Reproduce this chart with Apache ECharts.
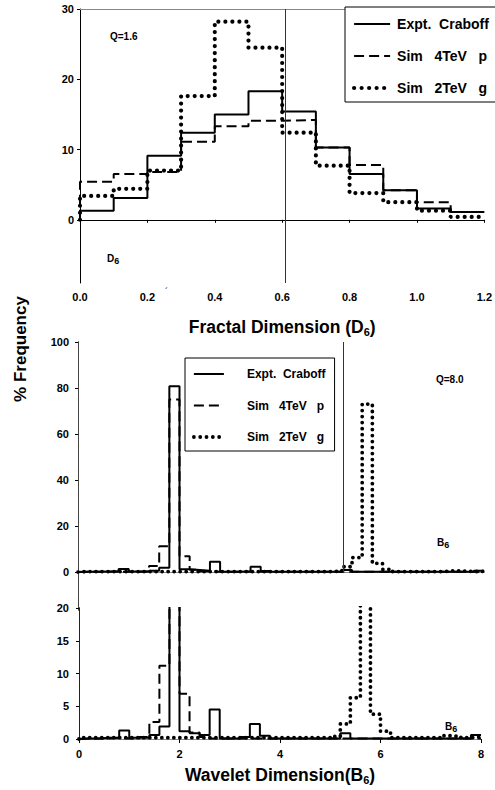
<!DOCTYPE html>
<html>
<head>
<meta charset="utf-8">
<script src="https://cdn.jsdelivr.net/npm/echarts@6/dist/echarts.min.js"></script>
<style>
html,body{margin:0;padding:0;background:#fff;}
#chart{width:495px;height:790px;}
</style>
</head>
<body>
<div id="chart"></div>
<script>
// ---------- DATA ----------
const seriesNames = ['Expt.  Craboff', 'Sim   4TeV   p', 'Sim   2TeV   g'];

// Top panel: fractal dimension D6 histogram (bin edges and % frequency per bin)
const fractalEdges = [0.0, 0.1, 0.2, 0.3, 0.4, 0.5, 0.6, 0.7, 0.8, 0.9, 1.0, 1.1, 1.2];
const fractalExpt  = [1.3, 3.1, 9.1, 12.4, 15.0, 18.3, 15.4, 10.3, 6.5, 4.2, 1.6, 1.1];
const fractalSim4p = [5.4, 6.5, 6.8, 11.1, 13.3, 14.1, 14.2, 10.3, 7.8, 4.2, 2.5, 1.1];
const fractalSim2g = [3.4, 4.4, 7.0, 17.6, 28.2, 24.5, 12.4, 7.7, 3.8, 2.5, 1.3, 0.4];
const fractalTicksX = [0.0, 1.2, 0.2];           // min, max, step
const fractalTicksY = [0, 10, 20, 30];
const fractalRefLine = 0.612;

// Middle / bottom panels: wavelet dimension B6 histogram
const waveletEdges = [0.0,0.2,0.4,0.6,0.8,1.0,1.2,1.4,1.6,1.8,2.0,2.2,2.4,2.6,2.8,3.0,3.2,3.4,3.6,3.8,
                      4.0,4.2,4.4,4.6,4.8,5.0,5.2,5.4,5.6,5.8,6.0,6.2,6.4,6.6,6.8,7.0,7.2,7.4,7.6,7.8,8.0];
const waveletExpt  = [0.1,0.1,0.2,0.2,1.3,0.2,0.2,0.6,1.9,80.8,
                      1.2,0.9,0.6,4.5,0.1,0.1,0.3,2.3,0.5,0.1,
                      0.1,0.1,0.1,0.1,0.1,0.1,0.9,0.1,0.1,0.1,
                      0.1,0.1,0.1,0.1,0.1,0.1,0.1,0.1,0.1,0.6];
const waveletSim4p = [0.1,0.1,0.1,0.2,0.1,0.1,0.3,2.6,11.2,75.0,
                      6.9,1.0,0.3,0.1,0.1,0.1,0.1,0.1,0.1,0.1,
                      0.1,0.1,0.1,0.1,0.1,0.1,0.1,0.1,0.1,0.1,
                      0.1,0.1,0.1,0.1,0.1,0.1,0.1,0.1,0.1,0.1];
const waveletSim2g = [0.2,0.2,0.2,0.2,0.2,0.2,0.2,0.2,0.2,0.2,
                      0.2,0.2,0.2,0.2,0.2,0.2,0.2,0.2,0.2,0.2,
                      0.2,0.2,0.2,0.2,0.2,0.4,2.3,6.3,73.0,3.8,
                      1.2,0.2,0.2,0.2,0.2,0.2,0.5,0.4,0.2,0.3];
const waveletTicksX = [0, 8, 2];
const waveletFullTicksY = [0, 20, 40, 60, 80, 100];
const waveletZoomTicksY = [0, 5, 10, 15, 20];
const waveletRefLine = 5.22;

// ---------- BUILD ----------
function stepLine(edges, values) {
  const pts = [[edges[0], 0]];
  values.forEach((v, i) => { pts.push([edges[i], v]); pts.push([edges[i + 1], v]); });
  return pts;
}
const FONT = "'Liberation Sans', Arial, sans-serif";
const styles = [
  {color: '#000', width: 2, type: 'solid'},
  {color: '#000', width: 2, type: [10, 5]},
  {color: '#000', width: 4.2, type: [0.01, 7], cap: 'round'}
];
const stylesW = [
  {color: '#000', width: 2, type: 'solid'},
  {color: '#000', width: 2, type: [10, 5]},
  {color: '#000', width: 3.8, type: [0.01, 6], cap: 'round'}
];
const lbl = {color: '#000', fontFamily: FONT, fontWeight: 'bold', fontSize: 11};
const blackLine = {show: true, lineStyle: {color: '#000', width: 1}};
const grayLine = {show: true, lineStyle: {color: '#888', width: 1}};
function borderAxis(gridIndex, position, line, min, max) {
  return {type: 'value', gridIndex, position, min, max, axisLine: line,
    axisTick: {show: false}, axisLabel: {show: false}, splitLine: {show: false}};
}

function mkSeries(name, data, x, y, style, extra) {
  return Object.assign({
    name, type: 'line', xAxisIndex: x, yAxisIndex: y, data, color: '#000',
    symbol: 'none', showSymbol: false, lineStyle: style, animation: false,
    emphasis: {disabled: true}, silent: true
  }, extra || {});
}

const series = [
  mkSeries(seriesNames[0], stepLine(fractalEdges, fractalExpt), 0, 0, styles[0], {
    markLine: {symbol: 'none', silent: true, label: {show: false},
      lineStyle: {color: '#333', width: 1, type: 'solid'},
      data: [{xAxis: fractalRefLine}]}
  }),
  mkSeries(seriesNames[1], stepLine(fractalEdges, fractalSim4p), 0, 0, styles[1]),
  mkSeries(seriesNames[2], stepLine(fractalEdges, fractalSim2g), 0, 0, styles[2]),

  mkSeries(seriesNames[0], stepLine(waveletEdges, waveletExpt), 2, 1, stylesW[0], {
    markLine: {symbol: 'none', silent: true, label: {show: false},
      lineStyle: {color: '#333', width: 1, type: 'solid'},
      data: [[{coord: [waveletRefLine, 0]}, {coord: [waveletRefLine, 100]}]]}
  }),
  mkSeries(seriesNames[1], stepLine(waveletEdges, waveletSim4p), 2, 1, stylesW[1]),
  mkSeries(seriesNames[2], stepLine(waveletEdges, waveletSim2g), 2, 1, stylesW[2]),

  mkSeries(seriesNames[0], stepLine(waveletEdges, waveletExpt), 4, 3, stylesW[0]),
  mkSeries(seriesNames[1], stepLine(waveletEdges, waveletSim4p), 4, 3, stylesW[1]),
  mkSeries(seriesNames[2], stepLine(waveletEdges, waveletSim2g), 4, 3, stylesW[2])
];

const subRich = {
  sub: {fontFamily: FONT, fontWeight: 'bold', fontSize: 11, padding: [10, 0, 0, 0]}
};

function legendData(dotW, dotGap) {
  return [
    {name: seriesNames[0], lineStyle: {color: '#000', width: 2, type: 'solid'}},
    {name: seriesNames[1], lineStyle: {color: '#000', width: 2, type: [10, 5]}},
    {name: seriesNames[2], lineStyle: {color: '#000', width: dotW, type: [0.01, dotGap], cap: 'round'}}
  ];
}

const option = {
  backgroundColor: '#fff',
  animation: false,
  grid: [
    {left: 80, top: 9, width: 410, height: 274},
    {left: 78, top: 342, width: 406, height: 268},
    {left: 79, top: 608, width: 402, height: 133}
  ],
  xAxis: [
    {type: 'value', gridIndex: 0, position: 'bottom', min: fractalTicksX[0], max: fractalTicksX[1], interval: fractalTicksX[2],
     axisLine: blackLine, axisTick: {show: true, length: 3, inside: false, lineStyle: {color: '#000'}},
     axisLabel: Object.assign({margin: 8, formatter: v => v.toFixed(1)}, lbl), splitLine: {show: false},
     name: 'Fractal Dimension (D{sub|6})', nameLocation: 'middle', nameGap: 33,
     nameTextStyle: {fontFamily: FONT, fontWeight: 'bold', fontSize: 17.5, color: '#000', rich: subRich}},
    borderAxis(0, 'top', grayLine, fractalTicksX[0], fractalTicksX[1]),
    {type: 'value', gridIndex: 1, min: waveletTicksX[0], max: waveletTicksX[1], show: false},
    borderAxis(1, 'top', grayLine, waveletTicksX[0], waveletTicksX[1]),
    {type: 'value', gridIndex: 2, position: 'bottom', min: waveletTicksX[0], max: waveletTicksX[1], interval: waveletTicksX[2],
     axisLine: blackLine, axisTick: {show: true, length: 4, lineStyle: {color: '#000'}},
     axisLabel: Object.assign({margin: 7}, lbl), splitLine: {show: false},
     name: 'Wavelet Dimension(B{sub|6})', nameLocation: 'middle', nameGap: 23,
     nameTextStyle: {fontFamily: FONT, fontWeight: 'bold', fontSize: 17.5, color: '#000', rich: subRich}},
    borderAxis(2, 'top', grayLine, waveletTicksX[0], waveletTicksX[1])
  ],
  yAxis: [
    {type: 'value', gridIndex: 0, min: -9, max: 30,
     axisLine: blackLine, axisTick: {show: true, length: 3, customValues: fractalTicksY, lineStyle: {color: '#000'}},
     axisLabel: Object.assign({margin: 6, customValues: fractalTicksY}, lbl), splitLine: {show: false}},
    {type: 'value', gridIndex: 1, min: -16.5, max: 100,
     axisLine: blackLine, axisTick: {show: true, length: 3, customValues: waveletFullTicksY, lineStyle: {color: '#000'}},
     axisLabel: Object.assign({margin: 9, customValues: waveletFullTicksY}, lbl), splitLine: {show: false}},
    borderAxis(1, 'right', {show: true, lineStyle: {color: '#444', width: 1}}, -16.5, 100),
    {type: 'value', gridIndex: 2, min: -0.3, max: 20,
     axisLine: blackLine, axisTick: {show: true, length: 3, customValues: waveletZoomTicksY, lineStyle: {color: '#000'}},
     axisLabel: Object.assign({margin: 10, customValues: waveletZoomTicksY}, lbl), splitLine: {show: false}},
    borderAxis(2, 'right', {show: true, lineStyle: {color: '#222', width: 1}}, -0.3, 20)
  ],
  legend: [
    {left: 345, top: 7, orient: 'vertical', data: legendData(4.2, 7.5),
     itemWidth: 36, itemHeight: 13, itemGap: 18, padding: [10, 30, 7, 7],
     itemStyle: {opacity: 0},
     borderColor: '#000', borderWidth: 1, backgroundColor: '#fff', selectedMode: false,
     textStyle: {fontFamily: FONT, fontWeight: 'bold', fontSize: 14, color: '#000', padding: [0, 0, 0, 2]}},
    {left: 185, top: 358, orient: 'vertical', data: legendData(3.8, 6.3),
     itemWidth: 30, itemHeight: 13, itemGap: 19.5, padding: [10, 9, 8, 7],
     itemStyle: {opacity: 0},
     borderColor: '#000', borderWidth: 1, backgroundColor: '#fff', selectedMode: false,
     textStyle: {fontFamily: FONT, fontWeight: 'bold', fontSize: 12, color: '#000', padding: [0, 0, 0, 18]}}
  ],
  graphic: [
    {type: 'text', x: 20, y: 349, rotation: Math.PI / 2,
     style: {text: '% Frequency', fontFamily: FONT, fontWeight: 'bold', fontSize: 17, fill: '#000', align: 'center', verticalAlign: 'middle'}},
    {type: 'text', left: 110, top: 31,
     style: {text: 'Q=1.6', fontFamily: FONT, fontWeight: 'bold', fontSize: 10, fill: '#000'}},
    {type: 'text', left: 107, top: 253,
     style: {text: 'D{s|6}', fontFamily: FONT, fontWeight: 'bold', fontSize: 10, fill: '#000',
       rich: {s: {fontFamily: FONT, fontWeight: 'bold', fontSize: 9, padding: [6, 0, 0, 0]}}}},
    {type: 'text', left: 436, top: 374,
     style: {text: 'Q=8.0', fontFamily: FONT, fontWeight: 'bold', fontSize: 10, fill: '#000'}},
    {type: 'text', left: 437, top: 537,
     style: {text: 'B{s|6}', fontFamily: FONT, fontWeight: 'bold', fontSize: 10, fill: '#000',
       rich: {s: {fontFamily: FONT, fontWeight: 'bold', fontSize: 9, padding: [6, 0, 0, 0]}}}},
    {type: 'text', left: 445, top: 721,
     style: {text: 'B{s|6}', fontFamily: FONT, fontWeight: 'bold', fontSize: 10, fill: '#000',
       rich: {s: {fontFamily: FONT, fontWeight: 'bold', fontSize: 9, padding: [6, 0, 0, 0]}}}},
    {type: 'text', left: 165, top: 286,
     style: {text: '´', fontFamily: FONT, fontSize: 9, fill: '#000'}}
  ],
  series
};

const chart = echarts.init(document.getElementById('chart'), null, {renderer: 'svg'});
chart.setOption(option);
</script>
</body>
</html>
